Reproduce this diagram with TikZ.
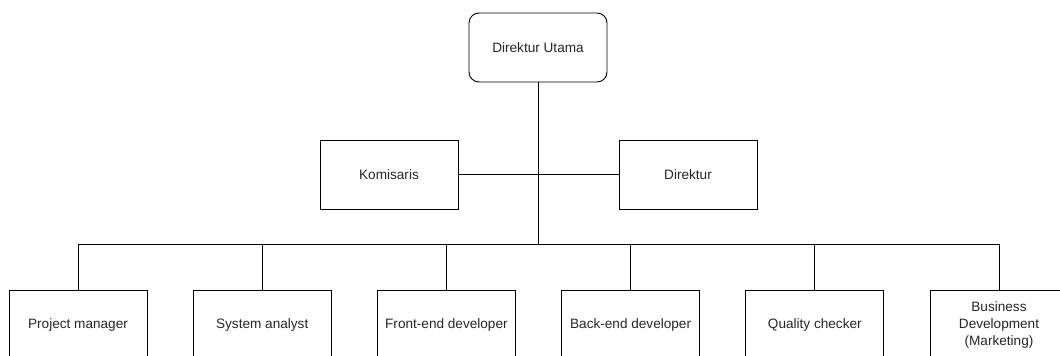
\documentclass[tikz,border=0pt]{standalone}
\usepackage{fontspec}
\setmainfont{Liberation Sans}
\begin{document}
\begin{tikzpicture}[x=1pt,y=-1pt,
  box/.style={draw=black,line width=0.9pt,minimum width=138pt,minimum height=69pt,inner sep=0pt,fill=white,align=center,font=\fontsize{13.6}{17}\selectfont,text=black!85},
  roundbox/.style={box,rounded corners=10pt},
  conn/.style={draw=black,line width=0.9pt}]
\useasboundingbox (0,0) rectangle (1060,356);
\clip (0,0) rectangle (1060,356);
\node[roundbox] (du) at (538,47.5) {Direktur Utama};
\node[box] (kom) at (389,174.5) {Komisaris};
\node[box] (dir) at (688,174.5) {Direktur};
\node[box] (pm) at (78,324.5) {Project manager};
\node[box] (sa) at (262.2,324.5) {System analyst};
\node[box] (fe) at (446.4,324.5) {Front-end developer};
\node[box] (be) at (630.6,324.5) {Back-end developer};
\node[box] (qc) at (814.8,324.5) {Quality checker};
\node[box] (bd) at (999,324.5) {Business\\Development\\(Marketing)};
\coordinate (bus) at (538,244);
\draw[conn] (kom.east) -- (dir.west);
\draw[conn] (du.south) -- (bus);
\draw[conn] (pm.north |- bus) -- (bd.north |- bus);
\foreach \n in {pm,sa,fe,be,qc,bd} \draw[conn] (\n.north |- bus) -- (\n.north);
\end{tikzpicture}
\end{document}
